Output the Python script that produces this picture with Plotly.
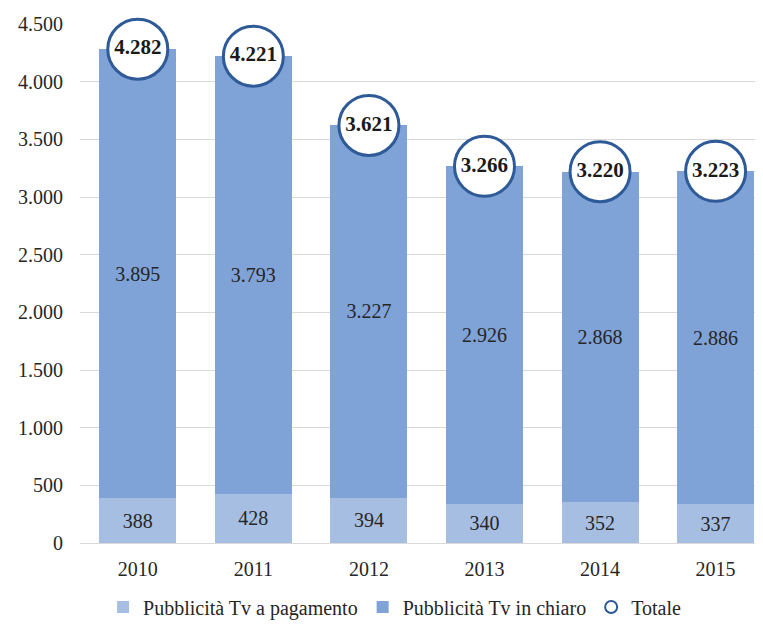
import plotly.graph_objects as go

years = ["2010", "2011", "2012", "2013", "2014", "2015"]
pay_tv = [388, 428, 394, 340, 352, 337]
free_tv = [3895, 3793, 3227, 2926, 2868, 2886]
totals = [4282, 4221, 3621, 3266, 3220, 3223]
y_ticks = [0, 500, 1000, 1500, 2000, 2500, 3000, 3500, 4000, 4500]

FONT = "Liberation Serif, Times New Roman, serif"
TXT = "#262626"

fig = go.Figure()
fig.add_trace(go.Bar(
    x=years, y=pay_tv, name="Pubblicità Tv a pagamento",
    marker=dict(color="#A7BEE3", line=dict(width=0)),
    width=0.667,
    texttemplate="%{y:,}", textposition="inside", insidetextanchor="middle",
    constraintext="none",
    textfont=dict(family=FONT, size=20, color=TXT),
))
fig.add_trace(go.Bar(
    x=years, y=free_tv, name="Pubblicità Tv in chiaro",
    marker=dict(color="#7FA2D7", line=dict(width=0)),
    width=0.667,
    texttemplate="%{y:,}", textposition="inside", insidetextanchor="middle",
    constraintext="none",
    textfont=dict(family=FONT, size=20, color=TXT),
))
fig.add_trace(go.Scatter(
    x=years, y=totals, name="Totale", mode="markers+text",
    marker=dict(symbol="circle", size=60, color="white",
                line=dict(color="#2E5A97", width=3)),
    texttemplate="<b>%{y:,}</b>", textposition="middle center",
    textfont=dict(family=FONT, size=21, color="#1a1a1a"),
    cliponaxis=False,
))

# the page adds an 8px body margin; compensate so the figure sits like the reference
fig.update_layout(
    width=755, height=616,
    barmode="stack",
    separators=",.",
    paper_bgcolor="white", plot_bgcolor="white",
    margin=dict(l=72, r=0, t=16, b=81, autoexpand=False),
    font=dict(family=FONT, size=20, color=TXT),
    showlegend=True,
    legend=dict(
        orientation="h", xref="container", yref="container",
        x=0.512, xanchor="center", y=0.0276, yanchor="middle",
        font=dict(family=FONT, size=20, color=TXT),
        itemsizing="constant", itemwidth=30,
        traceorder="normal",
    ),
    xaxis=dict(
        type="category", range=[-0.5, 5.41],
        showgrid=False, showline=False, ticks="",
        tickfont=dict(family=FONT, size=20, color=TXT),
        ticklabelstandoff=12,
    ),
    yaxis=dict(
        range=[0, 4500], tickvals=y_ticks, tickformat=",d",
        showgrid=True, gridcolor="#D9D9D9", gridwidth=1,
        zeroline=True, zerolinecolor="#D9D9D9", zerolinewidth=1,
        showline=False, ticks="",
        tickfont=dict(family=FONT, size=20, color=TXT),
        ticklabelstandoff=16,
    ),
)

fig.write_html("out.html")
